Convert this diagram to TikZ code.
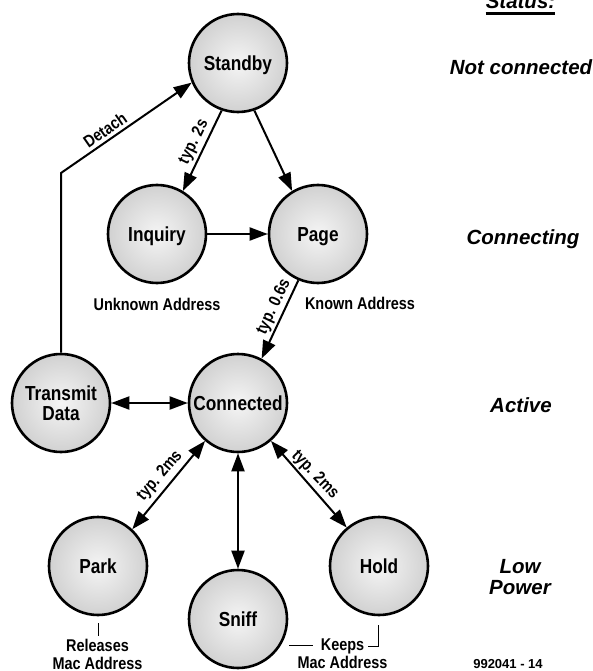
\documentclass[tikz,border=0pt]{standalone}
\usepackage{fontspec}
\setmainfont{Liberation Sans}
\newfontfamily\condf[FakeStretch=0.85]{Liberation Sans}
\usetikzlibrary{arrows.meta}
\pgfdeclareradialshading{ballshade}{\pgfpoint{0bp}{0bp}}{color(0bp)=(gray!8); color(50bp)=(gray!64)}
\begin{document}
\begin{tikzpicture}[x=1bp, y=-1bp,
  statebase/.style={circle, draw=black, line width=2.6bp, shading=ballshade,
    minimum size=98bp, inner sep=0pt, align=center,
    font=\condf\bfseries\fontsize{20.3bp}{21bp}\selectfont},
  state/.style={statebase, text height=14.5bp, text depth=0bp},
  tipa/.tip={Triangle[length=18bp,width=13bp]},
  conn/.style={line width=2bp, -tipa},
  both/.style={line width=2bp, tipa-tipa},
  lbl/.style={font=\condf\bfseries\fontsize{17bp}{18bp}\selectfont, inner sep=0pt, align=center},
  stat/.style={font=\bfseries\itshape\fontsize{20.5bp}{21bp}\selectfont, inner sep=0pt, anchor=base, align=center},
  thin/.style={line width=1bp}
]
\useasboundingbox (0,0) rectangle (593,671);
\fill[white] (0,0) rectangle (593,671);

% states
\node[state] (standby) at (238,63) {Standby};
\node[state] (inquiry) at (157,234) {Inquiry};
\node[state] (page) at (318,234) {Page};
\node[state] (connected) at (238,403) {Connected};
\node[statebase] (transmit) at (61,403) {Transmit\\[-0.5bp]Data};
\node[state] (park) at (98,566) {Park};
\node[state] (sniff) at (238,619) {Sniff};
\node[state] (hold) at (379,566) {Hold};

% connectors
\draw[conn] (standby.251) -- (inquiry.59);
\draw[conn] (standby.289) -- (page.121);
\draw[conn] (inquiry) -- (page);
\draw[conn] (page.247) -- (connected.62);
\draw[both] (transmit) -- (connected);
\draw[both] (connected.229) -- (park.47);
\draw[both] (connected) -- (sniff);
\draw[both] (connected.311) -- (hold.130);
\coordinate (bend) at (61,173);
\draw[conn] (transmit.north) -- (bend) -- (standby.203.5);

% connector labels
\node[lbl, rotate=34.7] (ldetach) at (105,130) {Detach};
\node[lbl, rotate=64] (ltyp2s) at (194,142) {typ. 2s};
\node[lbl, rotate=65] (ltyp06) at (274,307) {typ. 0.6s};
\node[lbl, rotate=49.5] (ltypl) at (160,476) {typ. 2ms};
\node[lbl, rotate=-46] (ltypr) at (315,475) {typ. 2ms};

% address labels
\node[lbl] (unknown) at (157,304) {Unknown Address};
\node[lbl] (known) at (360,303) {Known Address};
\node[lbl] (releases) at (97.5,654) {Releases\\Mac Address};
\node[lbl] (keeps) at (342.5,654) {Keeps\\Mac Address};
\draw[thin] (98,623) -- (98,636);
\draw[thin] (289,645.5) -- (313,645.5);
\draw[thin] (368,646.5) -- (378,646.5) -- (378,625);

% status column
\node[stat] (status) at (520.5,9) {Status:};
\draw[line width=2.6bp] ([yshift=-4.5bp]status.base west) -- ([yshift=-4.5bp]status.base east);
\node[stat] (notconn) at (521,74.5) {Not connected};
\node[stat] (connecting) at (523,244) {Connecting};
\node[stat] (active) at (521,412) {Active};
\node[stat] (lowpower) at (520,594.5) {Low\\Power};
\node[font=\bfseries\fontsize{13bp}{14bp}\selectfont, inner sep=0pt] (fig) at (508,664) {992041 - 14};
\end{tikzpicture}
\end{document}
